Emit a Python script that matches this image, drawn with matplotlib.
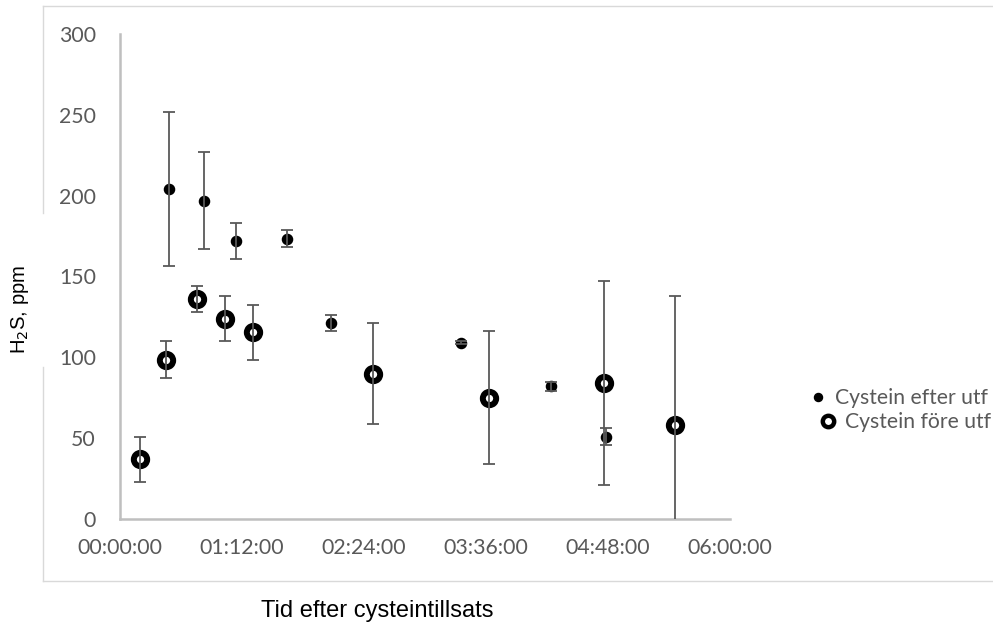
import matplotlib
matplotlib.use('Agg')
import matplotlib.pyplot as plt
from matplotlib.lines import Line2D
from matplotlib.ticker import FixedLocator, FuncFormatter

# ── data (minutes after cysteine addition, H2S ppm) ──────────────
efter_t   = [29, 50, 69, 99, 125, 201.5, 254.5, 287]
efter_y   = [204, 197, 172, 173.5, 121, 109, 82, 51]
efter_err = [47.5, 30, 11, 5, 5, 0.8, 2.6, 5]

fore_t   = [12, 27.5, 46, 62.5, 79, 149.5, 218, 286, 328]
fore_y   = [37, 98.5, 136, 124, 115.5, 90, 75, 84, 58]
fore_err = [14, 11.5, 8, 14, 17, 31.5, 41, 63, 80]

XTICKS = [0, 72, 144, 216, 288, 360]

GRAY_TXT = '#595959'
AX_GRAY  = '#bfbfbf'
ERR_GRAY = '#595959'
TICK_FONT = ['Lato', 'DejaVu Sans']


def hms(v, pos=None):
    m = int(round(v))
    return f'{m // 60:02d}:{m % 60:02d}:00'


W, H = 993, 624
fig = plt.figure(figsize=(W / 100, H / 100), dpi=100)
ax = fig.add_axes([119.5 / W, 1 - 519 / H, 610 / W, 485 / H])

# markers
ax.plot(efter_t, efter_y, 'o', color='black', ms=7.3, zorder=2, clip_on=False)
ax.plot(fore_t, fore_y, 'o', mfc='white', mec='black', ms=9.6, mew=4.3, zorder=2, clip_on=False)

# error bars drawn on top (like Excel)
for t, y, e in ((efter_t, efter_y, efter_err), (fore_t, fore_y, fore_err)):
    ax.errorbar(t, y, yerr=e, fmt='none', ecolor=ERR_GRAY, elinewidth=1.3,
                capsize=4.2, capthick=1.3, zorder=3)

ax.set_xlim(0, 360)
ax.set_ylim(0, 300)
ax.xaxis.set_major_locator(FixedLocator(XTICKS))
ax.xaxis.set_major_formatter(FuncFormatter(hms))
ax.set_yticks(range(0, 301, 50))

for s in ['top', 'right']:
    ax.spines[s].set_visible(False)
for s in ['left', 'bottom']:
    ax.spines[s].set_color(AX_GRAY)
    ax.spines[s].set_linewidth(1.8)
    ax.spines[s].set_zorder(1)
ax.tick_params(length=0, colors=GRAY_TXT, labelsize=15.3)
ax.tick_params(axis='y', pad=17)
ax.tick_params(axis='x', pad=14)
for lab in ax.get_xticklabels() + ax.get_yticklabels():
    lab.set_family(TICK_FONT)

# chart-area border (gap on the left where the y title sits)
L, R, T, B = 43 / W, 1.2, 1 - 6 / H, 1 - 581 / H
bc = '#d9d9d9'
fig.add_artist(Line2D([L, R], [T, T], color=bc, lw=1.0))
fig.add_artist(Line2D([L, R], [B, B], color=bc, lw=1.0))
fig.add_artist(Line2D([L, L], [T, 1 - 213 / H], color=bc, lw=1.0))
fig.add_artist(Line2D([L, L], [1 - 367 / H, B], color=bc, lw=1.0))

# axis titles
fig.text(20 / W, 1 - 309 / H, r'H$_2$S, ppm', rotation=90, ha='center', va='center',
         fontsize=14.6, family='Liberation Sans', color='black')
fig.text(377 / W, 1 - 617 / H, 'Tid efter cysteintillsats', ha='center', va='baseline',
         fontsize=17, family='Liberation Sans', color='black')

# legend (Excel puts the two entries slightly offset; one legend per row)
h1 = Line2D([], [], ls='none', marker='o', color='black', ms=5.8)
h2 = Line2D([], [], ls='none', marker='o', mfc='white', mec='black', ms=8.2, mew=3.2)
rows = [(h1, 'Cystein efter utf', 807, 398), (h2, 'Cystein före utf', 817, 422)]
for h, lab, lx, ly in rows:
    leg = fig.legend([h], [lab], loc='center left', bbox_to_anchor=(lx / W, 1 - ly / H),
                     frameon=False, handlelength=1.0, handletextpad=0.32,
                     borderpad=0, borderaxespad=0,
                     prop={'family': TICK_FONT, 'size': 15.2})
    for txt in leg.get_texts():
        txt.set_color(GRAY_TXT)

fig.savefig('out.png', dpi=100)
